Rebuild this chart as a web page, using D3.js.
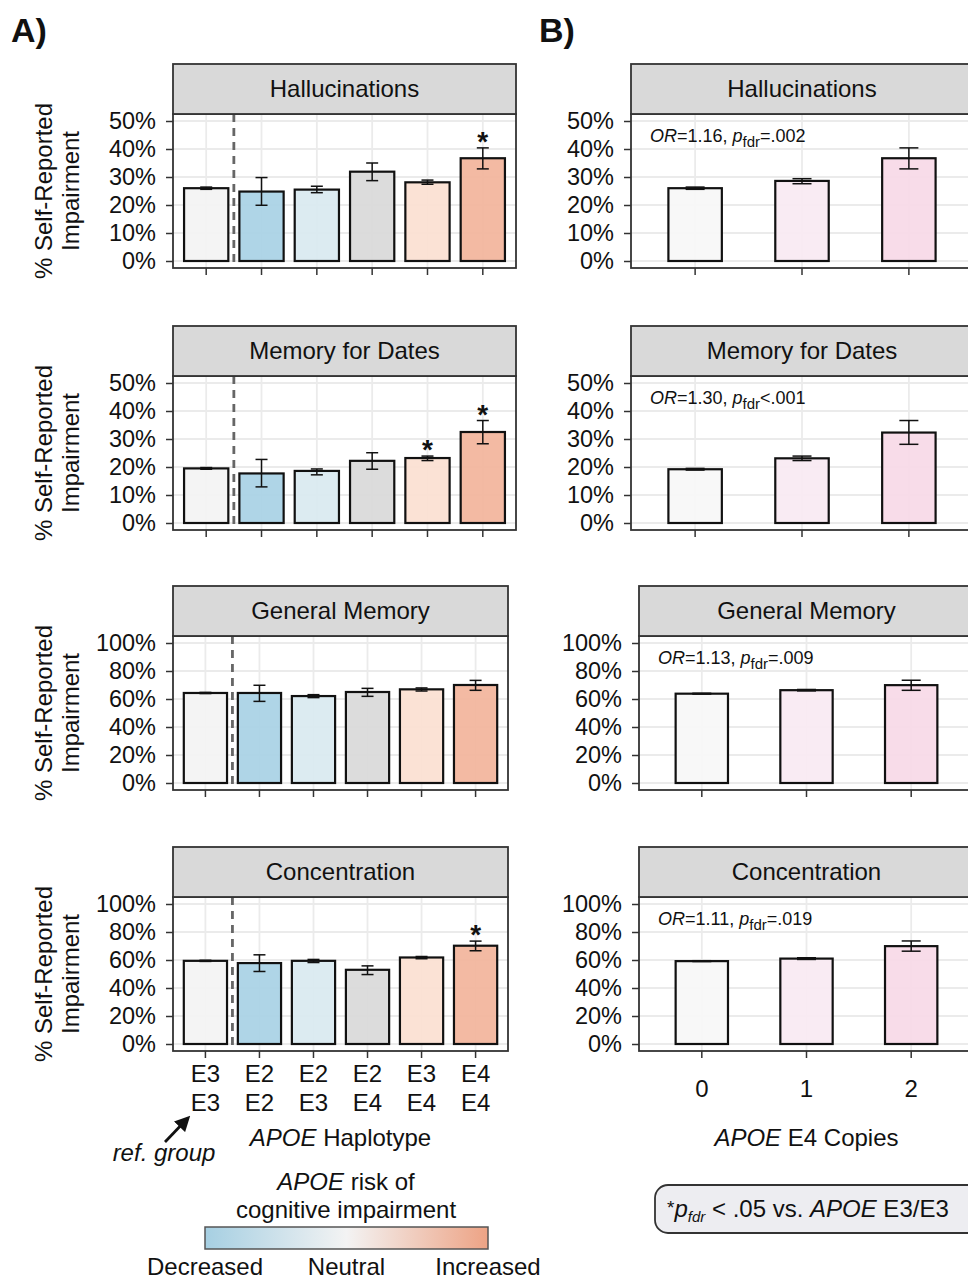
<!DOCTYPE html>
<html><head><meta charset="utf-8">
<script src="https://cdn.jsdelivr.net/npm/d3@7"></script>
<style>
body{margin:0;background:#fff;}
text{font-family:"Liberation Sans",Arial,Helvetica,sans-serif;fill:#111;}
</style></head>
<body><svg id="chart" width="968" height="1280"></svg>
<script>
// ---------------- DATA ----------------
const haplotypes = ["E3/E3","E2/E2","E2/E3","E2/E4","E3/E4","E4/E4"];
const copies = ["0","1","2"];
const outcomes = ["Hallucinations","Memory for Dates","General Memory","Concentration"];
const yMaxes = [50,50,100,100];
const yTickSteps = [10,10,20,20];

const haploMean = [
  [26.0,24.8,25.5,31.9,28.1,36.7],
  [19.5,17.7,18.6,22.2,23.2,32.5],
  [64.3,64.3,62.1,65.0,66.9,70.0],
  [59.4,57.8,59.4,53.0,61.8,70.2]
];
const haploLow = [
  [25.6,19.9,24.4,28.7,27.4,32.9],
  [19.2,12.9,17.2,19.2,22.3,28.3],
  [63.9,58.3,61.0,61.9,65.7,66.2],
  [59.0,51.8,58.2,49.6,60.9,66.6]
];
const haploHigh = [
  [26.4,29.8,26.7,35.0,28.9,40.4],
  [19.8,22.7,19.3,25.1,23.9,36.6],
  [64.7,69.8,63.1,67.6,67.9,73.3],
  [59.8,63.7,60.4,55.8,62.5,73.5]
];
const haploSig = [
  [0,0,0,0,0,1],
  [0,0,0,0,1,1],
  [0,0,0,0,0,0],
  [0,0,0,0,0,1]
];
const copiesMean = [
  [26.0,28.6,36.7],
  [19.2,23.1,32.3],
  [63.8,66.3,69.9],
  [59.2,61.0,69.9]
];
const copiesLow = [
  [25.6,27.6,32.9],
  [18.9,22.3,28.1],
  [63.5,65.8,66.2],
  [58.9,60.4,66.3]
];
const copiesHigh = [
  [26.4,29.4,40.4],
  [19.5,23.9,36.6],
  [64.1,66.8,73.4],
  [59.5,61.6,73.6]
];
const oddsRatios = ["1.16","1.30","1.13","1.11"];
const pValues = ["=.002","<.001","=.009","=.019"];
const riskLabels = ["Decreased","Neutral","Increased"];

// ---------------- STYLE ----------------
const haploColors = ["#f3f3f3","#a9d2e5","#d9e9f0","#d9d9d9","#fbe0d2","#f2b59c"];
const copiesColors = ["#f8f8f8","#f9e9f2","#f8d9e7"];
const gradStops = ["#a6cfe2","#f3f3f3","#eda385"];
const FS = 24;

const svg = d3.select("#chart");
svg.append("rect").attr("width",968).attr("height",1280).attr("fill","#fff");
const defs = svg.append("defs");

const plotTops = [114,376,636,897];
const plotH = 154, stripH = 50;
const panelAX = [[173,516],[173,516],[173,508],[173,508]];
const panelBX = [[631,973],[631,973],[639,974],[639,974]];

function drawPanel(r, cats, means, lows, highs, colors, xr, opts){
  const top = plotTops[r], bottom = top + plotH;
  const yMax = yMaxes[r];
  const y = d3.scaleLinear().domain([-0.05*yMax, 1.05*yMax]).range([bottom, top]);
  const p = opts.padding;
  const x = d3.scaleBand().domain(cats).range(xr).paddingInner(p).paddingOuter(0.1+p/2);
  const cx = d => x(d) + x.bandwidth()/2;
  const g = svg.append("g");
  const ticks = d3.range(0, yMax+0.001, yTickSteps[r]);
  // grid
  g.selectAll(".hg").data(ticks).join("line")
    .attr("x1",xr[0]).attr("x2",xr[1]).attr("y1",d=>y(d)).attr("y2",d=>y(d))
    .attr("stroke","#ebebeb").attr("stroke-width",1.8);
  g.selectAll(".vg").data(cats).join("line")
    .attr("x1",cx).attr("x2",cx).attr("y1",top).attr("y2",bottom)
    .attr("stroke","#ebebeb").attr("stroke-width",1.8);
  // dashed ref line
  if(opts.refLine){
    const xm = (cx(cats[0]) + cx(cats[1]))/2;
    g.append("line").attr("x1",xm).attr("x2",xm).attr("y1",top).attr("y2",bottom)
      .attr("stroke","#666").attr("stroke-width",2.8).attr("stroke-dasharray","8,6");
  }
  // bars (slightly translucent so the grid shows through, as in the reference)
  g.selectAll(".bar").data(cats).join("rect")
    .attr("x",d=>x(d)).attr("width",x.bandwidth())
    .attr("y",(d,i)=>y(means[i])).attr("height",(d,i)=>y(0)-y(means[i]))
    .attr("fill",(d,i)=>colors[i]).attr("fill-opacity",0.93)
    .attr("stroke","#111").attr("stroke-width",2.2);
  // error bars
  const cw = opts.cap;
  cats.forEach((d,i)=>{
    const c = cx(d);
    g.append("line").attr("x1",c).attr("x2",c).attr("y1",y(lows[i])).attr("y2",y(highs[i])).attr("stroke","#111").attr("stroke-width",1.5);
    [lows[i],highs[i]].forEach(v=>g.append("line").attr("x1",c-cw/2).attr("x2",c+cw/2).attr("y1",y(v)).attr("y2",y(v)).attr("stroke","#111").attr("stroke-width",1.5));
    if(opts.sig && opts.sig[i]){
      g.append("text").attr("x",c).attr("y",y(highs[i])+3).attr("text-anchor","middle")
        .attr("font-size",28).attr("font-weight","bold").text("*");
    }
  });
  // panel border
  g.append("rect").attr("x",xr[0]).attr("y",top).attr("width",xr[1]-xr[0]).attr("height",plotH)
    .attr("fill","none").attr("stroke","#333").attr("stroke-width",1.8);
  // strip
  g.append("rect").attr("x",xr[0]).attr("y",top-stripH).attr("width",xr[1]-xr[0]).attr("height",stripH)
    .attr("fill","#d9d9d9").attr("stroke","#333").attr("stroke-width",1.8);
  g.append("text").attr("x",(xr[0]+xr[1])/2).attr("y",top-stripH/2+8).attr("text-anchor","middle")
    .attr("font-size",FS).text(outcomes[r]);
  // y axis
  const ya = g.append("g").attr("transform",`translate(${xr[0]},0)`)
    .call(d3.axisLeft(y).tickValues(ticks).tickSize(7).tickPadding(10).tickFormat(d=>d+"%"));
  ya.select(".domain").remove();
  ya.selectAll(".tick line").attr("stroke","#333").attr("stroke-width",1.5);
  ya.selectAll(".tick text").attr("font-size",23.5).attr("fill","#111")
    .style("font-family",'"Liberation Sans",Arial,sans-serif');
  // x ticks
  const xa = g.append("g").attr("transform",`translate(0,${bottom})`)
    .call(d3.axisBottom(x).tickSize(7).tickFormat(""));
  xa.select(".domain").remove();
  xa.selectAll(".tick line").attr("stroke","#333").attr("stroke-width",1.5);
  return {x, cx, y};
}

let lastA, lastB;
outcomes.forEach((o,r)=>{
  lastA = drawPanel(r, haplotypes, haploMean[r], haploLow[r], haploHigh[r], haploColors, panelAX[r],
    {padding:0.2, cap:12, refLine:true, sig:haploSig[r]});
  lastB = drawPanel(r, copies, copiesMean[r], copiesLow[r], copiesHigh[r], copiesColors, panelBX[r],
    {padding:0.5, cap:19, refLine:false});
  // y-axis title (panel A)
  const cy = plotTops[r] + plotH/2;
  svg.append("text").attr("transform",`translate(52,${cy}) rotate(-90)`).attr("text-anchor","middle")
    .attr("font-size",FS).text("% Self-Reported");
  svg.append("text").attr("transform",`translate(79,${cy}) rotate(-90)`).attr("text-anchor","middle")
    .attr("font-size",FS).text("Impairment");
  // OR annotation (panel B)
  const t = svg.append("text").attr("x",panelBX[r][0]+19).attr("y",plotTops[r]+28).attr("font-size",18);
  t.append("tspan").attr("font-style","italic").text("OR");
  t.append("tspan").text("="+oddsRatios[r]+", ");
  t.append("tspan").attr("font-style","italic").text("p");
  t.append("tspan").attr("font-size",15).attr("dy",5).text("fdr");
  t.append("tspan").attr("dy",-5).text(pValues[r]);
});

// panel letters
svg.append("text").attr("x",11).attr("y",42).attr("font-size",34).attr("font-weight","bold").text("A)");
svg.append("text").attr("x",539).attr("y",42).attr("font-size",34).attr("font-weight","bold").text("B)");

// x labels panel A
haplotypes.forEach(h=>{
  const [a,b] = h.split("/");
  const c = lastA.cx(h);
  svg.append("text").attr("x",c).attr("y",1082).attr("text-anchor","middle").attr("font-size",FS).text(a);
  svg.append("text").attr("x",c).attr("y",1111).attr("text-anchor","middle").attr("font-size",FS).text(b);
});
copies.forEach(k=>{
  svg.append("text").attr("x",lastB.cx(k)).attr("y",1097).attr("text-anchor","middle").attr("font-size",FS).text(k);
});
function mixed(x,yy,parts,size){
  const t = svg.append("text").attr("x",x).attr("y",yy).attr("text-anchor","middle").attr("font-size",size);
  parts.forEach(([s,it])=>t.append("tspan").attr("font-style",it?"italic":"normal").text(s));
  return t;
}
mixed((panelAX[3][0]+panelAX[3][1])/2, 1146, [["APOE",1],[" Haplotype",0]], FS);
mixed((panelBX[3][0]+panelBX[3][1])/2, 1146, [["APOE",1],[" E4 Copies",0]], FS);

// ref group annotation
defs.append("marker").attr("id","arr").attr("viewBox","0 0 10 10").attr("refX",7).attr("refY",5)
  .attr("markerWidth",5.5).attr("markerHeight",5.5).attr("orient","auto")
  .append("path").attr("d","M0,0 L10,5 L0,10 z").attr("fill","#111");
svg.append("line").attr("x1",165).attr("y1",1142).attr("x2",187).attr("y2",1119)
  .attr("stroke","#111").attr("stroke-width",2.8).attr("marker-end","url(#arr)");
svg.append("text").attr("x",164).attr("y",1161).attr("text-anchor","middle").attr("font-size",FS)
  .attr("font-style","italic").text("ref. group");

// legend
mixed(346, 1190, [["APOE",1],[" risk of",0]], FS);
mixed(346, 1218, [["cognitive impairment",0]], FS);
const grad = defs.append("linearGradient").attr("id","riskGrad");
gradStops.forEach((c,i)=>grad.append("stop").attr("offset",(i/(gradStops.length-1)*100)+"%").attr("stop-color",c));
const legX = d3.scaleLinear().domain([0,riskLabels.length-1]).range([205,488]);
svg.append("rect").attr("x",legX(0)).attr("y",1227).attr("width",legX(2)-legX(0)).attr("height",22)
  .attr("fill","url(#riskGrad)").attr("stroke","#555").attr("stroke-width",1.5);
riskLabels.forEach((l,i)=>svg.append("text").attr("x",legX(i)).attr("y",1275).attr("text-anchor","middle")
  .attr("font-size",FS).text(l));

// significance note box
svg.append("rect").attr("x",655).attr("y",1185).attr("width",330).attr("height",48).attr("rx",13)
  .attr("fill","#ededf1").attr("stroke","#333").attr("stroke-width",1.8);
const nt = svg.append("text").attr("x",667).attr("y",1217).attr("font-size",FS);
nt.append("tspan").attr("font-size",19).attr("dy",-3).text("*");
nt.append("tspan").attr("font-style","italic").attr("dy",3).text("p");
nt.append("tspan").attr("font-style","italic").attr("font-size",15).attr("dy",5).text("fdr");
nt.append("tspan").attr("dy",-5).text(" < .05 vs. ");
nt.append("tspan").attr("font-style","italic").text("APOE");
nt.append("tspan").text(" E3/E3");
</script></body></html>
